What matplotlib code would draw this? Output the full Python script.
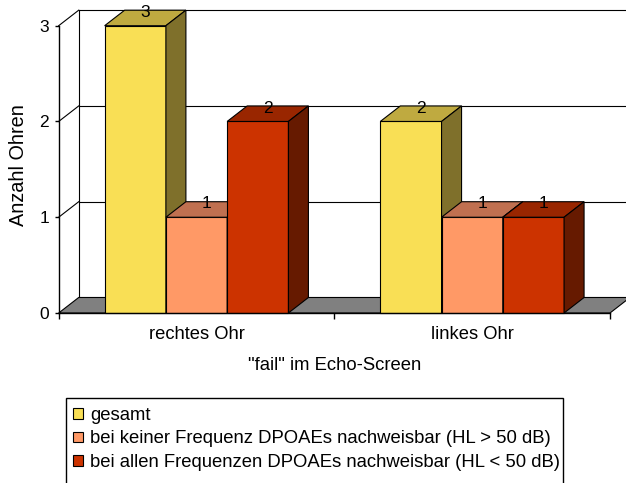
import matplotlib
matplotlib.use("Agg")
import matplotlib.pyplot as plt
from matplotlib.patches import Polygon, Patch, Rectangle

plt.rcParams['font.family'] = ['Liberation Sans', 'DejaVu Sans']

# Data
categories = ["rechtes Ohr", "linkes Ohr"]
series_names = [
    "gesamt",
    "bei keiner Frequenz DPOAEs nachweisbar (HL > 50 dB)",
    "bei allen Frequenzen DPOAEs nachweisbar (HL < 50 dB)",
]
gesamt = [3, 2]
keine_dpoae = [1, 1]
alle_dpoae = [2, 1]
series_values = [gesamt, keine_dpoae, alle_dpoae]
y_ticks = [0, 1, 2, 3]

# Face colours (front, top, side) for each series
front_colors = ["#F9DF55", "#FF9966", "#CC3300"]
top_colors = ["#BFAA40", "#C07050", "#992600"]
side_colors = ["#7F702B", "#804C33", "#661A00"]

W, H, DPI = 626, 483, 100
fig = plt.figure(figsize=(W / DPI, H / DPI), dpi=DPI)
fig.patch.set_facecolor("white")

# Axes covering the front plane of the 3D box
ax = fig.add_axes([58.7 / W, (H - 313) / H, 551.3 / W, 287.3 / H])
ax.set_xlim(-0.5, 1.5)
ax.set_ylim(0, 3)
ax.set_facecolor("none")

# Depth offset of the 3D effect, in data units
DX, DY = 0.0726, 0.162

edge = dict(edgecolor="black", linewidth=0.8, clip_on=False)

x0, x1 = -0.5, 1.5
# back-wall gridlines and left-wall diagonals
for k in y_ticks[1:]:
    ax.plot([x0 + DX, x1 + DX + 0.2], [k + DY, k + DY], color="black",
            lw=0.8, clip_on=False, zorder=1)
    ax.plot([x0, x0 + DX], [k, k + DY], color="black", lw=0.8,
            clip_on=False, zorder=1)
ax.plot([x0 + DX, x0 + DX], [DY, y_ticks[-1] + DY], color="black", lw=0.8,
        clip_on=False, zorder=1)

# floor
ax.add_patch(Polygon([(x0, 0), (x1, 0), (x1 + DX, DY), (x0 + DX, DY)],
                     closed=True, facecolor="#808080", zorder=2, **edge))

# bars
n_series = len(series_values)
group_w = 1 / 1.5
bw = group_w / n_series
for ci in range(len(categories)):
    for si, vals in enumerate(series_values):
        v = vals[ci]
        left = ci - group_w / 2 + si * bw
        right = left + bw
        z = 3 + ci * 10 + si * 3
        ax.add_patch(Polygon([(left, 0), (right, 0), (right, v), (left, v)],
                             closed=True, facecolor=front_colors[si], zorder=z, **edge))
        ax.add_patch(Polygon([(left, v), (right, v), (right + DX, v + DY), (left + DX, v + DY)],
                             closed=True, facecolor=top_colors[si], zorder=z + 1, **edge))
        ax.add_patch(Polygon([(right, 0), (right + DX, DY), (right + DX, v + DY), (right, v)],
                             closed=True, facecolor=side_colors[si], zorder=z + 2, **edge))
        ax.annotate(str(v), xy=((left + right) / 2 + DX / 2, v + DY / 2),
                    xytext=(0, 4), textcoords="offset points",
                    ha="center", va="center", fontsize=12.5, zorder=100,
                    annotation_clip=False)

# axes, ticks and labels
for s in ("top", "right"):
    ax.spines[s].set_visible(False)
for s in ("left", "bottom"):
    ax.spines[s].set_linewidth(1.0)
    ax.spines[s].set_zorder(50)
ax.set_yticks(y_ticks)
ax.tick_params(axis="y", direction="out", length=3, width=1, pad=4, labelsize=12.5)
ax.set_xticks([-0.5, 0.5, 1.5])
ax.set_xticklabels([])
ax.tick_params(axis="x", which="major", direction="out", length=4, width=1)
ax.set_xticks(range(len(categories)), minor=True)
ax.set_xticklabels(categories, minor=True)
ax.tick_params(axis="x", which="minor", length=0, pad=9.5, labelsize=13.2)
ax.set_xlabel('"fail" im Echo-Screen', fontsize=13.3, labelpad=10)
ax.set_ylabel("Anzahl Ohren", fontsize=14.3)
ax.yaxis.set_label_coords(-0.055, 0.515)

# legend
handles = [Patch(facecolor=c, edgecolor="black", linewidth=0.8) for c in front_colors]
leg = fig.legend(handles, series_names, loc="upper left",
                 bbox_to_anchor=(73.3 / W, 1 - 407 / H), frameon=False,
                 fontsize=13.3, handlelength=0.51, handleheight=0.51,
                 handletextpad=0.4, labelspacing=0.35, borderpad=0,
                 borderaxespad=0)
fig.add_artist(Rectangle((65.7 / W, -0.05), (563 - 65.7) / W, 1 - 398 / H + 0.05,
                         transform=fig.transFigure, facecolor="none",
                         edgecolor="black", linewidth=1.0))

fig.savefig("out.png", dpi=DPI)
